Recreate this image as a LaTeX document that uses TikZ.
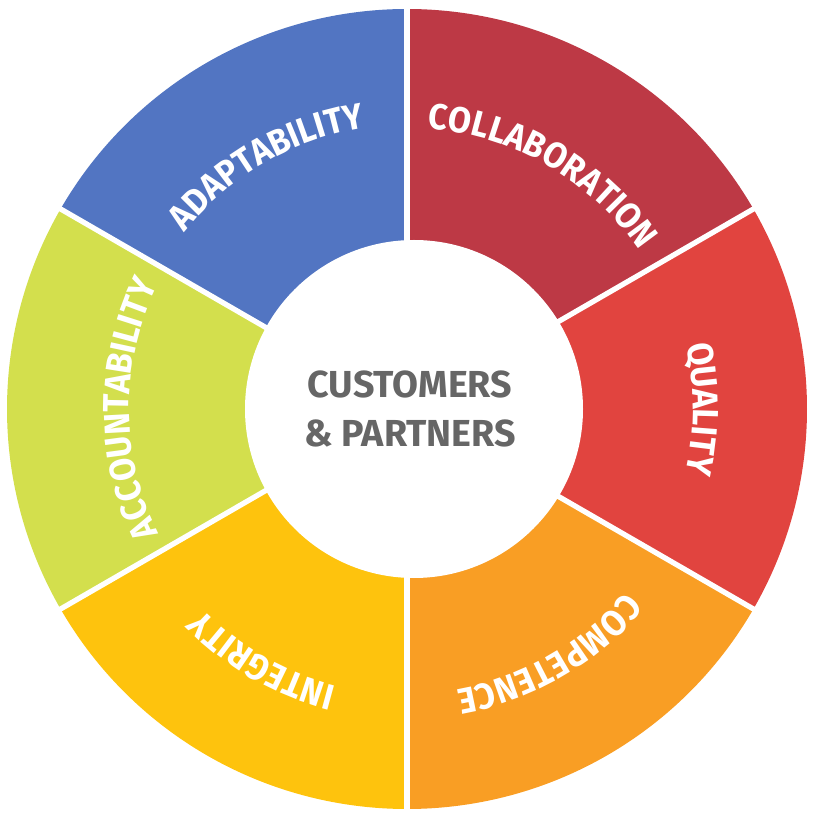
\documentclass[tikz,border=0pt]{standalone}
\usepackage{fontspec}
\setsansfont{Fira Sans}
\newfontfamily\ringfont{Fira Sans}[FakeStretch=0.92]
\usepackage{tikz}
\usetikzlibrary{decorations.text}

\definecolor{adaptblue}{HTML}{5275C2}
\definecolor{collabred}{HTML}{BD3945}
\definecolor{qualityred}{HTML}{E1443F}
\definecolor{competorange}{HTML}{F99E24}
\definecolor{integyellow}{HTML}{FEC30D}
\definecolor{accountlime}{HTML}{D3DF4D}
\definecolor{hubgray}{HTML}{666666}

\tikzset{
	divider/.style={white, line width=1.5pt},
	hubtext/.style={text=hubgray, font=\sffamily\bfseries\fontsize{10.7}{13.9}\selectfont, align=center},
	ringlabel/.style={decorate, decoration={text along path, text align=center, text color=white,
		text={|\ringfont\bfseries\fontsize{10.3}{12}\selectfont|#1}}}
}

\begin{document}
\begin{tikzpicture}
	%\draw [help lines, step=0.1, gray] (-4,-4) grid (4,4);
	\useasboundingbox (-4.07,-4.11) rectangle (4.13,4.09);

	\coordinate (O) at (0,0);

	% the six segments
	\fill [adaptblue] (O) -- (150:4) arc [start angle=150, end angle=90, radius=4] -- cycle;
	\fill [collabred] (O) -- (90:4) arc [start angle=90, end angle=30, radius=4] -- cycle;
	\fill [qualityred] (O) -- (30:4) arc [start angle=30, end angle=-30, radius=4] -- cycle;
	\fill [competorange] (O) -- (-30:4) arc [start angle=-30, end angle=-90, radius=4] -- cycle;
	\fill [integyellow] (O) -- (-90:4) arc [start angle=-90, end angle=-150, radius=4] -- cycle;
	\fill [accountlime] (O) -- (210:4) arc [start angle=210, end angle=150, radius=4] -- cycle;

	\draw [divider] (O) -- (90:4.1);
	\draw [divider] (O) -- (30:4.1);
	\draw [divider] (O) -- (-30:4.1);
	\draw [divider] (O) -- (-90:4.1);
	\draw [divider] (O) -- (-150:4.1);
	\draw [divider] (O) -- (150:4.1);

	\fill [white] (0.07,0) circle (1.69);

	\node (hub) [hubtext] at (0.03,0) {CUSTOMERS\\\& PARTNERS};

	% labels, read clockwise
	\path [ringlabel={ADAPTABILITY}] (150:2.84) arc [start angle=150, end angle=90, radius=2.84];
	\path [ringlabel={COLLABORATION}] (90:2.81) arc [start angle=90, end angle=30, radius=2.81];
	\path [ringlabel={QUALITY}] (30:2.86) arc [start angle=30, end angle=-30, radius=2.86];
	\path [ringlabel={COMPETENCE}] (-30:2.85) arc [start angle=-30, end angle=-90, radius=2.85];
	\path [ringlabel={INTEGRITY}] (-90:2.86) arc [start angle=-90, end angle=-150, radius=2.86];
	\path [ringlabel={ACCOUNTABILITY}] (210:2.78) arc [start angle=210, end angle=150, radius=2.78];

\end{tikzpicture}
\end{document}
